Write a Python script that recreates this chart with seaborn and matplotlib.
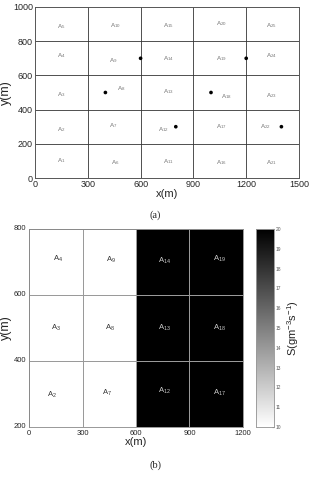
import numpy as np
import pandas as pd
import matplotlib
matplotlib.use("Agg")
import matplotlib.pyplot as plt
import seaborn as sns

sns.set_style("white")
plt.rcParams['font.family'] = ['Liberation Sans', 'DejaVu Sans']
plt.rcParams['mathtext.default'] = 'regular'

# ---- Panel (a) data ----
a_labels = [f"A$_{{{i}}}$" for i in range(1, 26)]
a_label_x = [151, 151, 151, 151, 151,
             455, 445, 492, 445, 455,
             758, 729, 758, 758, 758,
             1061, 1061, 1089, 1061, 1061,
             1345, 1307, 1345, 1345, 1345]
a_label_y = [103, 283, 489, 717, 887,
             88, 308, 522, 684, 893,
             97, 283, 503, 698, 893,
             88, 298, 474, 698, 902,
             88, 298, 483, 717, 893]
src_x = [400, 600, 800, 1000, 1200, 1400]
src_y = [500, 700, 300, 500, 700, 300]
a_xticks = [0, 300, 600, 900, 1200, 1500]
a_yticks = [0, 200, 400, 600, 800, 1000]

# ---- Panel (b) data ----
b_x_edges = [0, 300, 600, 900, 1200]
b_y_edges = [200, 400, 600, 800]
# rows from bottom (y 200-400) to top (600-800), columns x 0..1200
b_values = [[10, 10, 20, 20],
            [10, 10, 20, 20],
            [10, 10, 20, 20]]
b_labels = ["A$_{2}$", "A$_{7}$", "A$_{12}$", "A$_{17}$",
            "A$_{3}$", "A$_{8}$", "A$_{13}$", "A$_{18}$",
            "A$_{4}$", "A$_{9}$", "A$_{14}$", "A$_{19}$"]
b_label_x = [131, 437, 761, 1069, 153, 452, 761, 1069, 163, 462, 761, 1069]
b_label_y = [297, 302, 309, 304, 499, 499, 499, 501, 709, 706, 704, 709]
cbar_ticks = list(range(10, 21))

fig = plt.figure(figsize=(3.1, 4.79), dpi=100)

# ---------- Panel (a) ----------
ax1 = fig.add_axes([35/310, 1-178/479, 264/310, 171/479])
sns.scatterplot(x=src_x, y=src_y, ax=ax1, color='black', s=7, edgecolor='none', zorder=5)
for xv in a_xticks[1:-1]:
    ax1.axvline(xv, color='#333333', lw=0.6, zorder=1)
for yv in a_yticks[1:-1]:
    ax1.axhline(yv, color='#333333', lw=0.6, zorder=1)
for lab, xv, yv in zip(a_labels, a_label_x, a_label_y):
    ax1.text(xv, yv, lab, fontsize=4.5, color='#777777', ha='center', va='center')
ax1.set_xlim(0, 1500)
ax1.set_ylim(0, 1000)
ax1.set_xticks(a_xticks)
ax1.set_yticks(a_yticks)
ax1.tick_params(direction='in', length=2, labelsize=6.5, pad=1.5)
ax1.set_xlabel("x(m)", fontsize=8, labelpad=0)
ax1.set_ylabel("y(m)", fontsize=9, labelpad=1)
for sp in ax1.spines.values():
    sp.set_color('#555555')
    sp.set_linewidth(0.7)

fig.text(0.5, 1-215/479, "(a)", ha='center', va='center', fontsize=7.5,
         family=['Liberation Serif', 'DejaVu Serif'])

# ---------- Panel (b) ----------
ax2 = fig.add_axes([29/310, 1-427/479, 214/310, 198/479])
cax = fig.add_axes([256/310, 1-427/479, 18/310, 198/479])
df = pd.DataFrame(b_values, index=b_y_edges[:-1], columns=b_x_edges[:-1])
sns.heatmap(df, ax=ax2, cbar_ax=cax, cmap='gray_r', vmin=10, vmax=20,
            linewidths=0.6, linecolor='#9a9a9a',
            cbar_kws={'ticks': cbar_ticks})
ax2.invert_yaxis()
ncol = len(b_x_edges) - 1
nrow = len(b_y_edges) - 1
dx = b_x_edges[1] - b_x_edges[0]
dy = b_y_edges[1] - b_y_edges[0]
ax2.set_xticks(np.arange(ncol + 1))
ax2.set_xticklabels([str(v) for v in b_x_edges])
ax2.set_yticks(np.arange(nrow + 1))
ax2.set_yticklabels([str(v) for v in b_y_edges], rotation=0)
for lab, xv, yv, val in zip(b_labels, b_label_x, b_label_y,
                            [v for row in b_values for v in row]):
    col = '#cccccc' if val > 15 else '#333333'
    ax2.text((xv - b_x_edges[0]) / dx, (yv - b_y_edges[0]) / dy, lab,
             fontsize=5.5, color=col, ha='center', va='center')
ax2.tick_params(direction='in', length=0, labelsize=5.5, pad=2)
ax2.set_xlabel("x(m)", fontsize=8, labelpad=0)
ax2.set_ylabel("y(m)", fontsize=9, labelpad=1)
for sp in ax2.spines.values():
    sp.set_visible(True)
    sp.set_color('#888888')
    sp.set_linewidth(0.6)

cax.tick_params(direction='in', length=1.5, labelsize=3.5, pad=1, colors='#555555')
for sp in cax.spines.values():
    sp.set_visible(True)
    sp.set_color('#999999')
    sp.set_linewidth(0.5)
cax.set_ylabel("S(gm$^{-3}$s$^{-1}$)", fontsize=8, labelpad=3)

fig.text(0.5, 1-465/479, "(b)", ha='center', va='center', fontsize=7.5,
         family=['Liberation Serif', 'DejaVu Serif'])

fig.savefig("out.png", dpi=100)
